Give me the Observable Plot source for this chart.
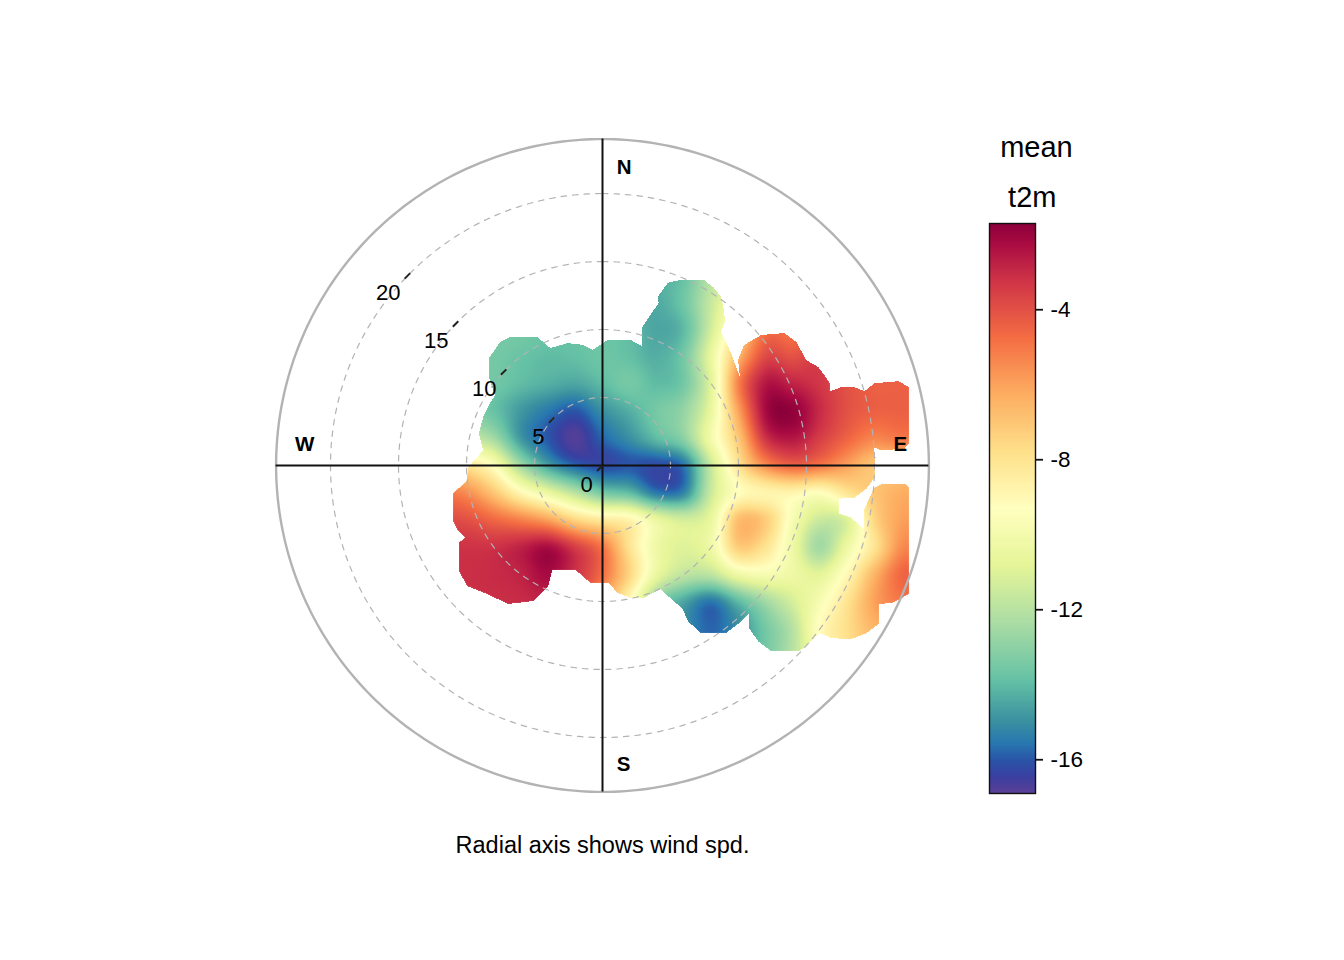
<!DOCTYPE html>
<html>
<head>
<meta charset="utf-8">
<script src="https://cdn.jsdelivr.net/npm/d3@7"></script>
<script src="https://cdn.jsdelivr.net/npm/@observablehq/plot@0.6"></script>
<style>
html,body{margin:0;padding:0;background:#fff;}
#wrap{position:relative;width:1344px;height:960px;}
#wrap svg{position:absolute;left:0;top:0;}
</style>
</head>
<body>
<div id="wrap"></div>
<script>
// wind-speed components (m/s) of the grid of readings
const gridU = [-12,-10,-8,-6,-4,-2,0,2,4,6,8,10,12,14,16,18,20,22];
const gridV = [14,12,10,8,6,4,2,0,-2,-4,-6,-8,-10,-12,-14];
// mean t2m at each grid node
const t2m = [
[-13,-13,-13,-13.5,-13.5,-13.8,-14,-14.2,-14.2,-13.8,-12,-11,-8,-6,-5,-5,-5,-5],
[-13,-13,-13,-13.5,-13.5,-13.8,-14,-14.3,-14.4,-13.6,-11.6,-9.5,-7,-5.5,-5,-5,-5,-5],
[-13.2,-13.3,-13.4,-13.5,-13.7,-13.8,-13.8,-14,-14.5,-14,-11.3,-8,-5,-5,-4.5,-4.5,-4.5,-4.5],
[-13.3,-13.4,-13.5,-13.8,-14,-13.9,-13.7,-13.9,-14.3,-13.5,-10.5,-6.5,-3.8,-4,-3.5,-4,-4.4,-4.4],
[-13.3,-13.4,-13.6,-14,-14.3,-14.5,-14,-13.5,-14,-13.5,-10.8,-5.2,-2.5,-2.8,-3.3,-4,-4.4,-4.4],
[-13,-13.2,-13.8,-14.8,-15.5,-16,-15,-14.3,-13.5,-12.8,-10.5,-6,-2.2,-1.8,-3,-4,-4.4,-4.4],
[-11,-11.5,-12.5,-14.8,-16,-16.8,-15.8,-15,-14,-13,-10,-7,-3.2,-2.5,-3.5,-4.5,-5.3,-5],
[-7,-8,-9.5,-12.5,-14.6,-15.8,-16.2,-16,-16.2,-15.5,-11.5,-8,-5.5,-4.5,-5,-6,-7,-7],
[-5,-5.5,-7,-9,-10.5,-12,-13.5,-14,-15.5,-15.2,-11.5,-9.3,-8.8,-8.8,-9.3,-8,-7,-6.3],
[-3.8,-4,-4.6,-5.2,-6,-7.5,-8.3,-8.8,-10.5,-11.3,-10.5,-6.8,-7.2,-9.8,-11.5,-11,-7.5,-6],
[-3.2,-3.2,-3.2,-2.8,-2.3,-3.5,-5,-8,-10.3,-11,-10.2,-7.2,-8,-10.3,-12.5,-10.3,-8,-5.5],
[-3.1,-3.1,-3,-2.8,-2.2,-3.2,-4.8,-7.5,-10.5,-11.8,-11.8,-10.2,-9.8,-10.3,-10.8,-9,-6.5,-4.6],
[-3.1,-3.1,-3.1,-3,-3,-4,-6,-9,-13,-14.5,-15.5,-14,-12.5,-11.2,-9.8,-8,-6,-5],
[-3,-3,-3,-3,-3,-4,-6,-9,-13.5,-15,-15.8,-15,-13.5,-12,-9.2,-7.8,-6.5,-6],
[-3,-3,-3,-3,-3,-4,-6,-9,-13.5,-15,-15.5,-14.5,-13.5,-12,-9.5,-8,-7,-6]
];
// outline of the region with data, in the same wind-speed components
const outline = [
[5.76,13.65],[7.45,13.65],[8.19,13.06],[8.71,12.40],[8.93,11.44],[9.00,10.55],[8.71,9.82],[9.08,9.08],[9.45,8.27],[9.82,7.23],[10.11,6.49],[9.96,7.75],[10.41,8.86],[11.66,9.59],[13.36,9.74],[14.24,9.08],[14.98,7.75],[15.87,7.23],[16.68,6.13],[16.75,5.46],[17.56,5.76],[18.52,5.76],[19.26,5.46],[20.00,6.05],[21.77,6.20],[22.51,5.76],[22.51,1.62],[22.21,1.25],[20.52,1.11],[19.93,1.33],[20.07,0.59],[20.00,-0.89],[19.41,-1.70],[18.52,-2.36],[17.42,-2.44],[17.42,-3.54],[18.30,-3.84],[19.19,-4.65],[19.19,-3.32],[20.00,-1.62],[20.66,-1.33],[22.21,-1.33],[22.51,-1.62],[22.51,-9.45],[21.99,-9.74],[21.25,-10.11],[20.30,-10.18],[20.30,-11.66],[19.41,-12.32],[18.30,-12.77],[16.83,-12.69],[15.94,-12.32],[15.20,-13.06],[14.46,-13.65],[12.40,-13.65],[11.44,-12.92],[10.77,-11.96],[10.77,-10.85],[9.96,-11.66],[9.08,-12.32],[7.23,-12.32],[6.27,-11.44],[5.90,-10.55],[4.80,-9.59],[4.28,-9.08],[3.03,-9.74],[2.07,-9.74],[1.11,-9.37],[0.44,-8.63],[-0.89,-8.63],[-1.99,-7.68],[-3.69,-7.68],[-3.99,-8.86],[-5.09,-9.96],[-6.94,-10.18],[-8.49,-9.45],[-9.96,-8.86],[-10.55,-7.75],[-10.55,-5.68],[-10.11,-5.31],[-10.63,-4.80],[-11.00,-4.06],[-11.00,-2.07],[-9.96,-1.11],[-9.89,-0.15],[-8.78,1.11],[-9.08,2.36],[-8.78,3.54],[-8.27,4.58],[-7.90,5.17],[-8.34,6.49],[-8.34,7.90],[-7.53,9.08],[-6.79,9.45],[-4.80,9.45],[-3.84,8.63],[-2.58,9.00],[-1.40,8.86],[-0.74,8.49],[0.37,9.23],[2.07,9.23],[2.88,8.78],[2.88,10.11],[4.13,11.96],[4.06,12.40],[4.80,13.43]
];
const ringSpeeds = [5,10,15,20];
const axisSpeeds = [0,5,10,15,20];
const outerSpeed = 24;
const compass = ["N","E","S","W"];
const colourStops = [-16.9,-16.45,-16,-15.55,-15.0,-13.86,-12.34,-10.82,-9.3,-7.78,-6.26,-4.74,-3.22,-2.2,-1.7];
const colourRange = ["#5b3f96","#3a3fa0","#2a55a8","#2878b0","#3a8fa0","#66c2a5","#abdda4","#e6f598","#ffffbf","#fee08b","#fdae61","#f46d43","#cf3447","#a80a42","#8c0039"];
const legendTicks = [-16,-12,-8,-4];
const font = "'Liberation Sans', Arial, sans-serif";

// smooth reading of the grid (Catmull-Rom), blank outside the outline
function cr(a,b,c,d,t){return 0.5*(2*b+(c-a)*t+(2*a-5*b+4*c-d)*t*t+(3*b-a-3*c+d)*t*t*t);}
const cl=(i,n)=>Math.max(0,Math.min(n-1,i));
function surface(u,v){
  if(!d3.polygonContains(outline,[u,v])) return NaN;
  const gx=(u-gridU[0])/(gridU[1]-gridU[0]), gy=(v-gridV[0])/(gridV[1]-gridV[0]);
  const i=Math.floor(gx), j=Math.floor(gy), tx=gx-i, ty=gy-j;
  const rows=[];
  for(let m=-1;m<=2;m++){
    const R=t2m[cl(j+m,gridV.length)];
    rows.push(cr(R[cl(i-1,gridU.length)],R[cl(i,gridU.length)],R[cl(i+1,gridU.length)],R[cl(i+2,gridU.length)],tx));
  }
  return cr(rows[0],rows[1],rows[2],rows[3],ty);
}
const circle=r=>d3.range(0,361,1).map(a=>({x:r*Math.sin(a*Math.PI/180),y:r*Math.cos(a*Math.PI/180),r}));
const q=Math.SQRT1_2;
const tickLen=0.4, labelX=0.72, labelY=1.45;
const compassPos={N:[1.6,21.9],E:[21.9,1.55],S:[1.55,-22],W:[-21.9,1.55]};
const cx=602, cy=465, rad=326.4;

const chart=Plot.plot({
  width:1344,height:960,margin:0,
  style:{background:"transparent",fontFamily:font},
  x:{domain:[-24,24],range:[cx-rad,cx+rad],axis:null},
  y:{domain:[-24,24],range:[cy+rad,cy-rad],axis:null},
  color:{type:"linear",domain:colourStops,range:colourRange,interpolate:"rgb",clamp:true},
  marks:[
    Plot.raster({fill:surface,x1:-24,x2:24,y1:-24,y2:24,pixelSize:1,interpolate:null}),
    ...ringSpeeds.map(r=>Plot.line(circle(r),{x:"x",y:"y",stroke:"#b3b3b3",strokeWidth:1.2,strokeDasharray:"5.5,6"})),
    Plot.line(circle(outerSpeed),{x:"x",y:"y",stroke:"#b3b3b3",strokeWidth:2.4}),
    Plot.ruleX([0],{y1:-outerSpeed,y2:outerSpeed,stroke:"#111",strokeWidth:2}),
    Plot.ruleY([0],{x1:-outerSpeed,x2:outerSpeed,stroke:"#111",strokeWidth:2}),
    Plot.link(axisSpeeds,{x1:d=>-d*q,y1:d=>d*q,x2:d=>-d*q-tickLen,y2:d=>d*q-tickLen,stroke:"#222",strokeWidth:2}),
    Plot.text(axisSpeeds,{x:d=>-d*q-labelX,y:d=>d*q-labelY,text:d=>String(d),textAnchor:"end",fontSize:22,fill:"#000"}),
    Plot.text(compass,{x:d=>compassPos[d][0],y:d=>compassPos[d][1],text:d=>d,fontSize:20.5,fontWeight:"bold",fill:"#000"}),
    Plot.text(["Radial axis shows wind spd."],{x:0,y:-27.94,fontSize:23.5,fill:"#000"})
  ]
});

const legend=Plot.plot({
  width:1344,height:960,marginLeft:989,marginRight:309,marginTop:223,marginBottom:167,
  style:{background:"transparent",fontFamily:font},
  x:{domain:[0,1],axis:null},
  y:{domain:[-16.9,-1.7],axis:null},
  color:{type:"linear",domain:colourStops,range:colourRange,interpolate:"rgb",clamp:true},
  marks:[
    Plot.raster({fill:(x,y)=>y,x1:0,x2:1,y1:-16.9,y2:-1.7,pixelSize:1,interpolate:null}),
    Plot.frame({stroke:"#111",strokeWidth:1.4}),
    Plot.axisY({anchor:"right",ticks:legendTicks,tickFormat:d=>String(d),tickSize:7,tickPadding:8,fontSize:22.5,stroke:"#111",strokeWidth:1.8,fill:"#000",label:null}),
    Plot.text(["mean"],{x:1.02,frameAnchor:"top",lineAnchor:"middle",dy:-76,fontSize:29,fill:"#000"}),
    Plot.text(["t2m"],{x:0.93,frameAnchor:"top",lineAnchor:"middle",dy:-26,fontSize:29,fill:"#000"})
  ]
});
document.getElementById("wrap").append(chart,legend);
</script>
</body>
</html>
